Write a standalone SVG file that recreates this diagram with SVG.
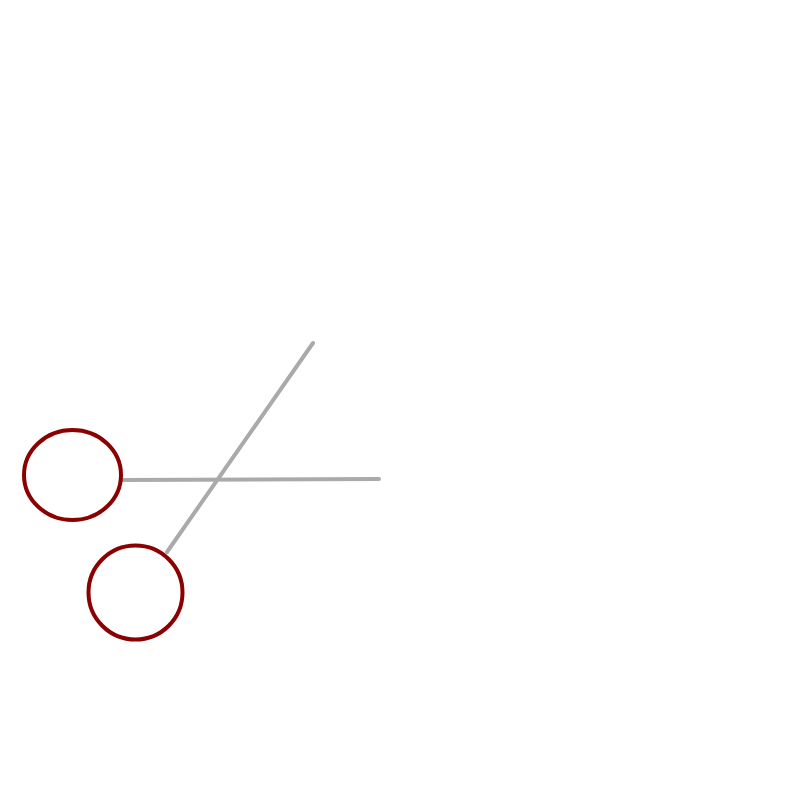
<svg xmlns="http://www.w3.org/2000/svg" width="800" height="800" viewBox="0 0 800 800">
<style>
.blade{stroke:#aaaaaa;stroke-width:4;stroke-linecap:round;fill:none}
.ring{stroke:#8b0000;stroke-width:4;fill:none}
</style>
<rect width="800" height="800" fill="#fff"/>
<g id="connectors">
<line class="blade" x1="122" y1="480" x2="379" y2="479"/>
<line class="blade" x1="167" y1="552" x2="313" y2="343"/>
</g>
<g id="handle1"><ellipse class="ring" cx="72.5" cy="475" rx="48.5" ry="45"/></g>
<g id="handle2"><ellipse class="ring" cx="135.5" cy="592.5" rx="47" ry="47"/></g>
</svg>
